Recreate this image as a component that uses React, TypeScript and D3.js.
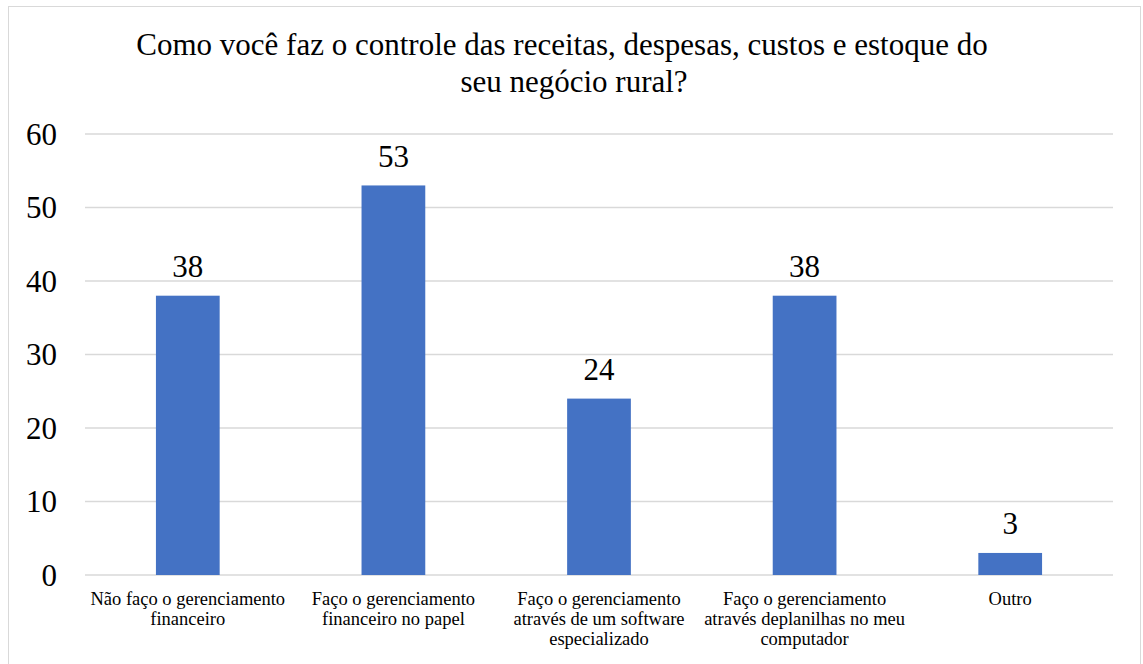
import React from "react";
import * as d3 from "d3";

const categories: string[][] = [
  ["Não faço o gerenciamento", "financeiro"],
  ["Faço o gerenciamento", "financeiro no papel"],
  ["Faço o gerenciamento", "através de um software", "especializado"],
  ["Faço o gerenciamento", "através deplanilhas no meu", "computador"],
  ["Outro"],
];
const values: number[] = [38, 53, 24, 38, 3];
const yTicks: number[] = [0, 10, 20, 30, 40, 50, 60];
const titleLines: string[] = [
  "Como você faz o controle das receitas, despesas, custos e estoque do",
  "seu negócio rural?",
];

const W = 1143;
const H = 664;
const FONT = "Liberation Serif";
const titleCenters = [562, 574];

export default function App() {
  const left = 85;
  const right = 1113;
  const top = 134;
  const bottom = 575;
  const x = d3
    .scaleBand<number>()
    .domain(values.map((_, i) => i))
    .range([left, right])
    .paddingInner(0.69)
    .paddingOuter(0.345);
  const y = d3.scaleLinear().domain([0, 60]).range([bottom, top]);

  return (
    <svg
      width={W}
      height={H}
      style={{ position: "absolute", left: 0, top: 0, background: "#fff" }}
    >
      <rect x={8.5} y={6.5} width={1132} height={700} fill="#fff" stroke="#d9d9d9" strokeWidth={1} />
      {titleLines.map((t, i) => (
        <text key={i} x={titleCenters[i]} y={55 + i * 37} textAnchor="middle" fontSize={31} fill="#000" fontFamily={FONT}>
          {t}
        </text>
      ))}
      {yTicks.map((t) => (
        <g key={t}>
          <line x1={left} x2={right} y1={y(t)} y2={y(t)} stroke="#d9d9d9" strokeWidth={1.3} />
          <text x={57} y={y(t) + 10.5} textAnchor="end" fontSize={31} fill="#000" fontFamily={FONT}>
            {t}
          </text>
        </g>
      ))}
      {values.map((v, i) => (
        <g key={i}>
          <rect x={x(i)} y={y(v)} width={x.bandwidth()} height={y(0) - y(v)} fill="#4472C4" />
          <text x={x(i)! + x.bandwidth() / 2} y={y(v) - 18.5} textAnchor="middle" fontSize={31} fill="#000" fontFamily={FONT}>
            {v}
          </text>
          {categories[i].map((line, j) => (
            <text
              key={j}
              x={x(i)! + x.bandwidth() / 2}
              y={605 + j * 20}
              textAnchor="middle"
              fontSize={18.5}
              fill="#000"
              fontFamily={FONT}
            >
              {line}
            </text>
          ))}
        </g>
      ))}
    </svg>
  );
}
